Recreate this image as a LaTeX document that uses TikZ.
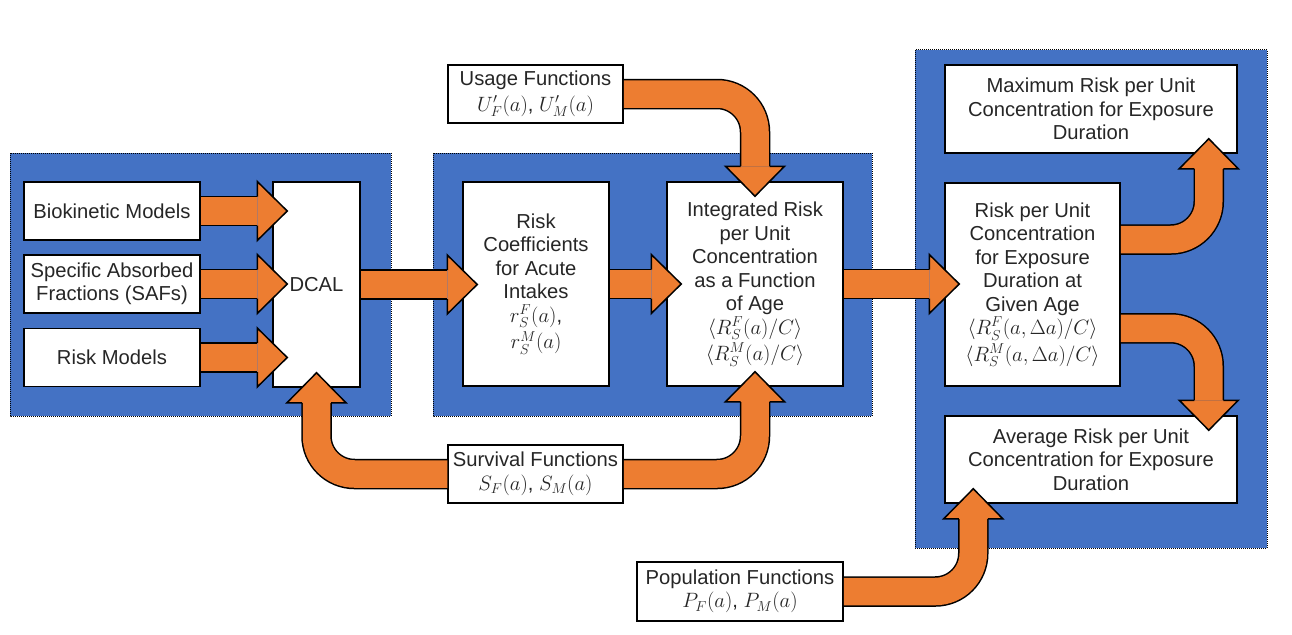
\documentclass[tikz,border=0pt]{standalone}
\usepackage{fontspec}
\setmainfont{Liberation Sans}
\usepackage{amsmath}
\usetikzlibrary{calc}

\definecolor{panelblue}{HTML}{4472C4}
\definecolor{arroworange}{HTML}{ED7D31}
\newcommand{\boxfont}{\fontsize{20.2}{23.5}\selectfont}
% arrow head at #1, turned by #2 degrees (0 = pointing right)
\newcommand{\arrowhead}[2]{%
  \filldraw[head,shift={(#1)},rotate=#2] (-30,14.5) -- (-30,29.5) -- (0,0) -- (-30,-29.5) -- (-30,-14.5);}

\begin{document}
\begin{tikzpicture}[x=1pt,y=-1pt,
    box/.style={draw=black,fill=white,line width=1.5pt,align=center,inner sep=2pt,font=\boxfont,text=black!85},
    panel/.style={draw=black,fill=panelblue,densely dotted,line width=1pt},
    shaft/.style={draw=black,line width=1.5pt,double=arroworange,double distance=27.5pt,rounded corners=38pt},
    head/.style={draw=black,fill=arroworange,line width=1.5pt,line join=miter}]
  \useasboundingbox (0,0) rectangle (1292,634);

  % blue panels
  \draw[panel] (10,153) rectangle (391,416);
  \draw[panel] (433,153) rectangle (872,416);
  \draw[panel] (915,50) rectangle (1267,548);

  % boxes
  \node[box,minimum width=176pt,minimum height=58pt] (bio) at (112,211) {Biokinetic Models};
  \node[box,minimum width=176pt,minimum height=58pt] (saf) at (112,284) {Specific Absorbed\\Fractions (SAFs)};
  \node[box,minimum width=176pt,minimum height=58pt] (riskm) at (112,357.5) {Risk Models};
  \node[box,minimum width=87pt,minimum height=205pt] (dcal) at (316.5,284.5) {DCAL};
  \node[box,minimum width=146pt,minimum height=204pt] (coef) at (536,284)
    {Risk\\Coefficients\\for Acute\\Intakes\\$r_S^F(a)$,\\[3pt]$r_S^M(a)$};
  \node[box,minimum width=176pt,minimum height=204pt] (integ) at (755,284)
    {Integrated Risk\\per Unit\\Concentration\\as a Function\\of Age\\$\langle R_S^F(a)/C\rangle$\\[3pt]$\langle R_S^M(a)/C\rangle$};
  \node[box,minimum width=175pt,minimum height=58pt] (usage) at (535.5,94) {Usage Functions\\[2pt]$U'_F(a)$, $U'_M(a)$};
  \node[box,minimum width=175pt,minimum height=58pt] (surv) at (535.5,474) {Survival Functions\\$S_F(a)$, $S_M(a)$};
  \node[box,minimum width=292pt,minimum height=88pt] (maxr) at (1091,109)
    {Maximum Risk per Unit\\Concentration for Exposure\\Duration};
  \node[box,minimum width=175pt,minimum height=203pt] (rpu) at (1032.5,284.5)
    {Risk per Unit\\Concentration\\for Exposure\\Duration at\\Given Age\\$\langle R_S^F(a,\Delta a)/C\rangle$\\[3pt]$\langle R_S^M(a,\Delta a)/C\rangle$};
  \node[box,minimum width=292pt,minimum height=87pt] (avgr) at (1091,459.5)
    {Average Risk per Unit\\Concentration for Exposure\\Duration};
  \node[box,minimum width=206pt,minimum height=59pt] (popf) at (740,591.5) {Population Functions\\$P_F(a)$, $P_M(a)$};

  % arrow tips
  \coordinate (tbio) at ($(dcal.west |- bio.east)+(15,0)$);
  \coordinate (tsaf) at ($(dcal.west |- saf.east)+(15,0)$);
  \coordinate (trisk) at ($(dcal.west |- riskm.east)+(15,0)$);
  \coordinate (tcoef) at ($(coef.west |- dcal.east)+(15,0)$);
  \coordinate (tinteg) at ($(integ.west |- coef.east)+(15,0)$);
  \coordinate (trpu) at ($(rpu.west |- integ.east)+(15,0)$);
  \coordinate (tusage) at ($(integ.north)+(0,15)$);
  \coordinate (tdcal) at ($(dcal.south)+(0,-15)$);
  \coordinate (tsurv) at ($(integ.south)+(0,-15)$);
  \coordinate (smax) at ($(rpu.north east)!0.28!(rpu.south east)$);
  \coordinate (savg) at ($(rpu.north east)!0.714!(rpu.south east)$);
  \coordinate (tmax) at ($(maxr.south east)+(-29,-15)$);
  \coordinate (tavg) at ($(avgr.north east)+(-29,15)$);
  \coordinate (tpop) at ($(avgr.south west)+(29,-15)$);

  % straight arrows
  \foreach \s/\t in {bio.east/tbio,saf.east/tsaf,riskm.east/trisk,dcal.east/tcoef,coef.east/tinteg,integ.east/trpu}{
    \draw[shaft] (\s) -- ($(\t)+(-30,0)$);
    \arrowhead{\t}{0}
  }

  % bent arrows
  \draw[shaft] (usage.east) -| ($(tusage)+(0,-30)$);
  \arrowhead{tusage}{-90}
  \draw[shaft] (surv.west) -| ($(tdcal)+(0,30)$);
  \arrowhead{tdcal}{90}
  \draw[shaft] (surv.east) -| ($(tsurv)+(0,30)$);
  \arrowhead{tsurv}{90}
  \draw[shaft] (smax) -| ($(tmax)+(0,30)$);
  \arrowhead{tmax}{90}
  \draw[shaft] (savg) -| ($(tavg)+(0,-30)$);
  \arrowhead{tavg}{-90}
  \draw[shaft] (popf.east) -| ($(tpop)+(0,30)$);
  \arrowhead{tpop}{90}
\end{tikzpicture}
\end{document}
